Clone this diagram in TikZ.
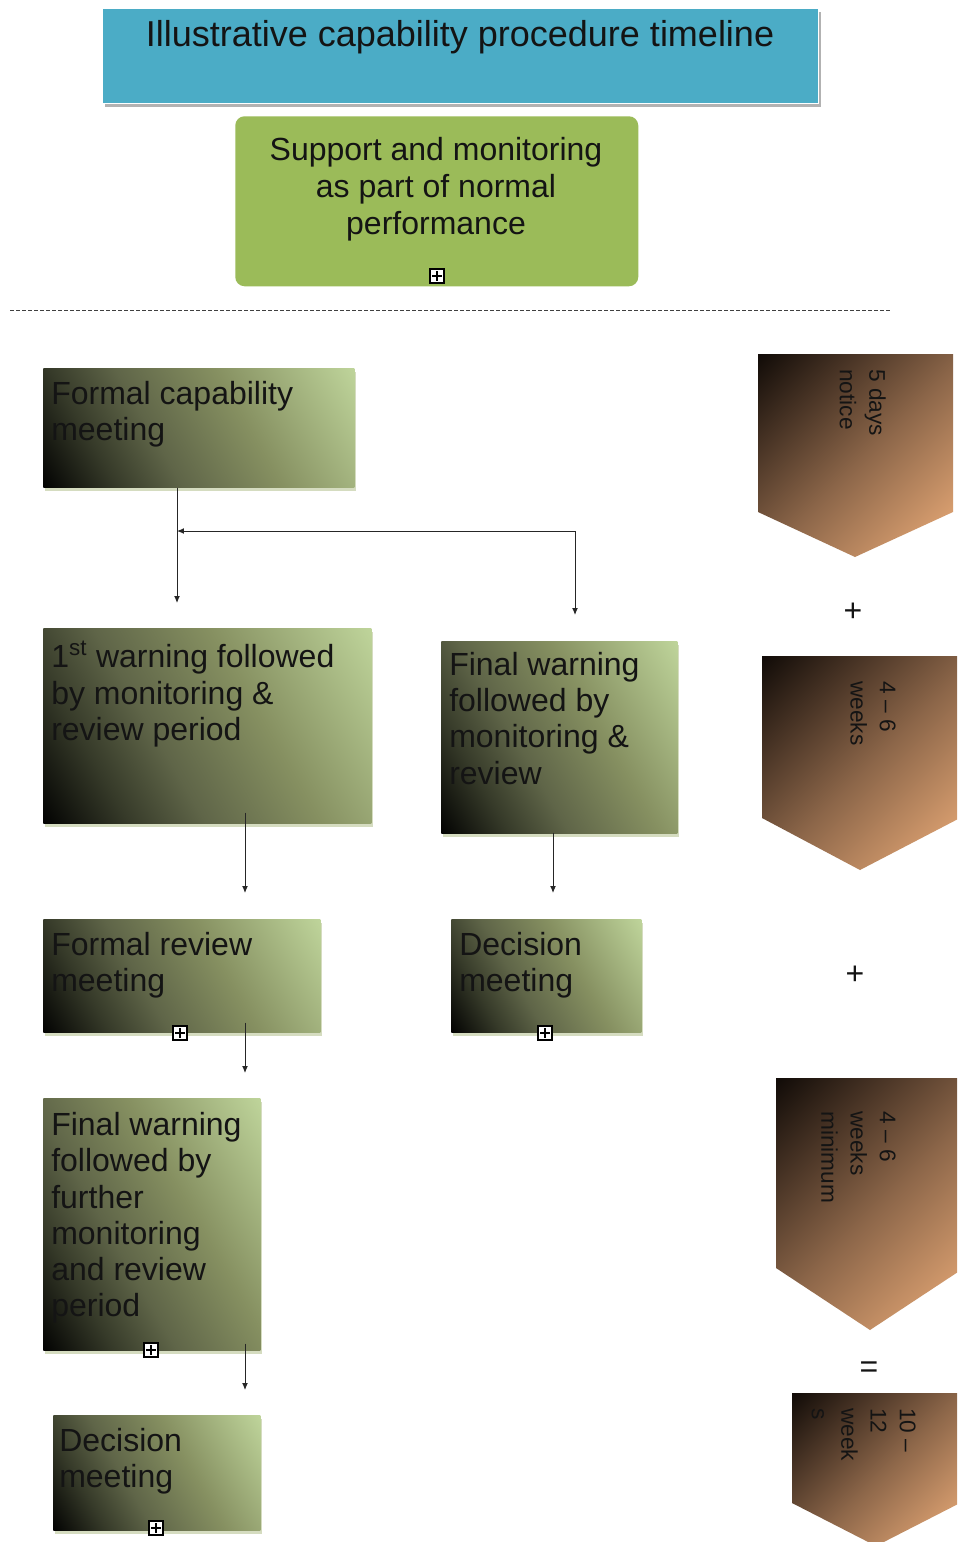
\documentclass[tikz,border=0pt]{standalone}
\usepackage{fontspec}
\setmainfont{Liberation Sans}
\usetikzlibrary{arrows.meta,shadows,calc}
\definecolor{titleblue}{HTML}{4BACC6}
\definecolor{supgreen}{HTML}{9BBB59}
\definecolor{boxlight}{HTML}{C0D69C}
\definecolor{boxmidhi}{HTML}{869061}
\definecolor{boxmidlo}{HTML}{5F6548}
\definecolor{boxdark}{HTML}{363A29}
\definecolor{boxshadow}{HTML}{D5DCC0}
\definecolor{chevdark}{HTML}{120C08}
\definecolor{chevdm}{HTML}{4A3526}
\definecolor{chevmid}{HTML}{8C6649}
\definecolor{chevlight}{HTML}{EEAE7A}
\definecolor{txtdark}{HTML}{141414}
\pgfdeclarehorizontalshading{boxshade}{100bp}{color(0bp)=(black); color(15bp)=(black); color(29bp)=(boxdark); color(41bp)=(boxmidlo); color(59bp)=(boxmidhi); color(85bp)=(boxlight); color(100bp)=(boxlight)}
\pgfdeclarehorizontalshading{chevshade}{100bp}{color(0bp)=(chevdark); color(15bp)=(chevdark); color(32bp)=(chevdm); color(52bp)=(chevmid); color(85bp)=(chevlight); color(100bp)=(chevlight)}
\begin{document}
\begin{tikzpicture}[x=0.75pt,y=-0.75pt,
  sz/.style 2 args={minimum width=#1*0.75pt, minimum height=#2*0.75pt},
  gbox/.style={rectangle, inner sep=0, anchor=north west, draw=none,
    shading=boxshade, shading angle=30,
    general shadow={shadow xshift=1.5pt, shadow yshift=-2.5pt, fill=boxshadow}},
  btxt/.style={anchor=north west, align=left, inner sep=0, text=txtdark,
    font=\fontsize{24}{27.2}\selectfont},
  ctxt/.style={anchor=north west, align=left, inner sep=0, rotate=-90, text=txtdark,
    font=\fontsize{17}{22}\selectfont},
  chev/.style={shading=chevshade, shading angle=-45},
  sym/.style={inner sep=0, text=txtdark, font=\fontsize{24}{26}\selectfont},
  plusicon/.style={draw=black, fill=white, line width=0.8pt, minimum size=10.5pt, inner sep=0,
    path picture={\draw[line width=0.8pt]
      ([yshift=-1.8pt]path picture bounding box.north) -- ([yshift=1.8pt]path picture bounding box.south)
      ([xshift=1.8pt]path picture bounding box.west) -- ([xshift=-1.8pt]path picture bounding box.east);}},
  arr/.style={draw=black!85, line width=0.75pt, -{Latex[length=5.2pt,width=4.4pt]}}
]
\useasboundingbox (0,0) rectangle (957,1542);
\fill[white] (0,0) rectangle (957,1542);
\clip (0,0) rectangle (957,1542);

% title
\node[rectangle, anchor=north west, sz={716}{95}, fill=titleblue, draw=white, line width=0.6pt,
  general shadow={shadow xshift=2pt, shadow yshift=-3pt, fill=black!30}] (title) at (102,8) {};
\node[inner sep=0, text=txtdark, font=\fontsize{27}{30}\selectfont] (titletxt) at (460,37)
  {Illustrative capability procedure timeline};

% support box
\node[rectangle, rounded corners=7pt, anchor=north west, sz={403}{170}, fill=supgreen] (sup) at (235,116) {};
\node[inner sep=0, align=center, text=txtdark, font=\fontsize{24}{27.7}\selectfont] (suptxt) at (436,189)
  {Support and monitoring\\as part of normal\\performance};
\node[plusicon] (p0) at (437,276) {};

% dashed separator
\coordinate (dl) at (10,310);
\coordinate (dr) at (890,310);
\draw[black!75, line width=0.7pt, dash pattern=on 3pt off 1.5pt] (dl) -- (dr);

% gradient boxes
\node[gbox, sz={311}{119}] (fcm) at (43,368) {};
\node[btxt] (fcmt) at (51,381) {Formal capability\\meeting};

\node[gbox, sz={328}{195}] (w1) at (43,628) {};
\node[btxt] (w1t) at (51,641) {1\textsuperscript{st} warning followed\\by monitoring \&\\review period};

\node[gbox, sz={236}{192}] (fw) at (441,641) {};
\node[btxt] (fwt) at (449,652) {Final warning\\followed by\\monitoring \&\\review};

\node[gbox, sz={277}{113}] (frm) at (43,919) {};
\node[btxt] (frmt) at (51,932) {Formal review\\meeting};
\node[plusicon] (p1) at (180,1033) {};

\node[gbox, sz={190}{113}] (dm1) at (451,919) {};
\node[btxt] (dm1t) at (459,932) {Decision\\meeting};
\node[plusicon] (p2) at (545,1033) {};

\node[gbox, sz={217}{252}] (fwf) at (43,1098) {};
\node[btxt] (fwft) at (51,1112) {Final warning\\followed by\\further\\monitoring\\and review\\period};
\node[plusicon] (p3) at (151,1350) {};

\node[gbox, sz={207}{115}] (dm2) at (53,1415) {};
\node[btxt] (dm2t) at (59,1428) {Decision\\meeting};
\node[plusicon] (p4) at (156,1528) {};

% connectors
\coordinate (a1) at (177,603);
\draw[arr] (fcm.south -| a1) -- (a1);
\coordinate (j) at (575,531);
\coordinate (jl) at (177,531);
\coordinate (a2) at (575,615);
\draw[arr] (j) -- (jl);
\draw[arr] (j) -- (a2);
\coordinate (a3) at (245,893);
\draw[arr] (w1.south -| a3) ++(0,-11) -- (a3);
\coordinate (a4) at (553,893);
\draw[arr] (fw.south -| a4) ++(0,-1) -- (a4);
\coordinate (a5) at (245,1073);
\draw[arr] (frm.south -| a5) ++(0,-10) -- (a5);
\coordinate (a6) at (245,1390);
\draw[arr] (fwf.south -| a6) ++(0,-7) -- (a6);

% chevrons
\shade[chev] (758,354) -- (953,354) -- (953,512) -- (855,557) -- (758,512) -- cycle;
\node[ctxt] (c1t) at (886,369) {5 days\\notice};
\node[sym] (plus1) at (853,612) {+};

\shade[chev] (762,656) -- (960,656) -- (960,818) -- (860,870) -- (762,818) -- cycle;
\node[ctxt] (c2t) at (896,681) {4 -- 6\\weeks};
\node[sym] (plus2) at (855,975) {+};

\shade[chev] (776,1078) -- (964,1078) -- (964,1268) -- (870,1330) -- (776,1268) -- cycle;
\node[ctxt] (c3t) at (896,1111) {4 -- 6\\weeks\\minimum};
\node[sym] (eq) at (869,1370) {=};

\shade[chev] (792,1393) -- (960,1393) -- (960,1503) -- (876,1546) -- (792,1503) -- cycle;
\node[ctxt] (c4t) at (916,1408) {10 --\\12\\week\\s};
\end{tikzpicture}
\end{document}
